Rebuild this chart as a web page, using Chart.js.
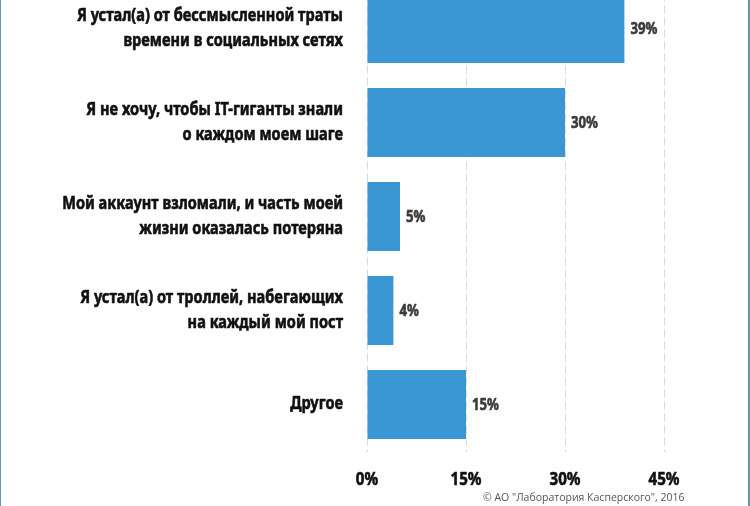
<!DOCTYPE html>
<html>
<head>
<meta charset="utf-8">
<script src="https://cdn.jsdelivr.net/npm/chart.js@4.4.0/dist/chart.umd.min.js"></script>
<style>
  html, body { margin: 0; padding: 0; background: #ffffff; }
  body { width: 750px; height: 506px; position: relative; overflow: hidden; }
  #wrap { position: absolute; left: 0; top: -20px; width: 750px; height: 526px; }
  .edge { position: absolute; top: 0; width: 1px; height: 506px; background: #5a97b3; }
  #footer { position: absolute; left: 483px; top: 490px; font-family: "Open Sans", "DejaVu Sans", sans-serif; font-size: 10.5px; color: #555555; white-space: nowrap; }
</style>
</head>
<body>
<div id="wrap"><canvas id="c"></canvas></div>
<div class="edge" style="left:0"></div>
<div class="edge" style="left:748px;width:2px"></div>
<div id="footer">© АО "Лаборатория Касперского", 2016</div>
<script>
const categories = [
  ["Я устал(а) от бессмысленной траты", "времени в социальных сетях"],
  ["Я не хочу, чтобы IT-гиганты знали", "о каждом моем шаге"],
  ["Мой аккаунт взломали, и часть моей", "жизни оказалась потеряна"],
  ["Я устал(а) от троллей, набегающих", "на каждый мой пост"],
  ["Другое"]
];
const values = [39, 30, 5, 4, 15];
const tickValues = [0, 15, 30, 45];

const FONT = '"Noto Sans", "Open Sans", sans-serif';

// draw condensed heavy text (reference uses a bold condensed face)
function condensedText(ctx, text, x, y, size, targetW, refText, align, color) {
  ctx.save();
  ctx.font = 'bold ' + size + 'px ' + FONT;
  const sx = targetW / ctx.measureText(refText).width;
  ctx.fillStyle = color;
  ctx.strokeStyle = color;
  ctx.lineWidth = 0.6;
  ctx.lineJoin = 'round';
  ctx.textBaseline = 'middle';
  ctx.textAlign = align;
  ctx.translate(x, y);
  ctx.scale(sx, 1);
  ctx.fillText(text, 0, 0);
  ctx.strokeText(text, 0, 0);
  ctx.restore();
}

const textPlugin = {
  id: 'textPlugin',
  afterDatasetsDraw(chart) {
    const ctx = chart.ctx;
    const xs = chart.scales.x, ys = chart.scales.y;
    categories.forEach((lines, i) => {
      const cy = ys.getPixelForValue(i);
      const lh = 25;
      const off = -((lines.length - 1) * lh) / 2;
      lines.forEach((ln, j) => {
        condensedText(ctx, ln, chart.chartArea.left - 24, cy + off + j * lh, 17, 266,
          categories[0][0], 'right', '#111111');
      });
    });
    const meta = chart.getDatasetMeta(0);
    meta.data.forEach((bar, i) => {
      condensedText(ctx, values[i] + '%', bar.x + 6, bar.y + 1, 16, 27, '39%', 'left', '#3a3a3a');
    });
    tickValues.forEach(v => {
      condensedText(ctx, v + '%', xs.getPixelForValue(v), chart.chartArea.bottom + 28.5, 18, 31, '45%', 'center', '#111111');
    });
  }
};

new Chart(document.getElementById('c'), {
  type: 'bar',
  data: {
    labels: categories,
    datasets: [{
      data: values,
      backgroundColor: '#3a97d4',
      borderWidth: 0,
      categoryPercentage: 1,
      barPercentage: 0.734
    }]
  },
  options: {
    indexAxis: 'y',
    responsive: true,
    maintainAspectRatio: false,
    animation: false,
    layout: { padding: { top: 1.5, right: 86, bottom: 0, left: 0 } },
    plugins: { legend: { display: false }, tooltip: { enabled: false } },
    scales: {
      x: {
        min: 0, max: 45,
        afterBuildTicks(scale) { scale.ticks = tickValues.map(v => ({ value: v })); },
        afterFit(scale) { scale.height = 54.5; scale.paddingLeft = 0; scale.paddingRight = 0; },
        ticks: { display: false },
        grid: { color: '#dadada', lineWidth: 1, drawTicks: false },
        border: { display: false, dash: [8, 4] }
      },
      y: {
        afterFit(scale) { scale.width = 367; scale.paddingTop = 0; scale.paddingBottom = 0; },
        ticks: { display: false },
        grid: { display: false },
        border: { display: false }
      }
    }
  },
  plugins: [textPlugin]
});
</script>
</body>
</html>
